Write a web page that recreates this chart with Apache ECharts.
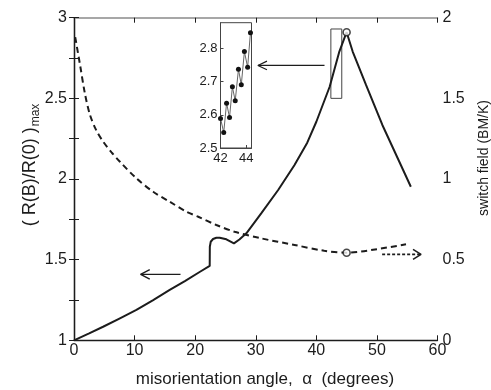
<!DOCTYPE html>
<html><head><meta charset="utf-8">
<script src="https://cdn.jsdelivr.net/npm/echarts@6/dist/echarts.min.js"></script>
<style>html,body{margin:0;padding:0;background:#fff}#c{width:491px;height:390px}</style>
</head><body><div id="c"></div>
<script>
// ---- data ----
const ratioCurve = [
  [0,1.0],[2.5,1.043],[4.8,1.084],[7.5,1.135],[10.3,1.188],[13,1.248],[15.8,1.312],
  [18.3,1.367],[20.8,1.425],[22.4,1.461],[22.42,1.58],[22.57,1.611],[22.95,1.628],
  [23.5,1.636],[24.05,1.636],[25.15,1.626],[26.4,1.601],[27.3,1.625],[28.45,1.663],
  [30.9,1.787],[33.7,1.932],[36.4,2.087],[38.5,2.225],[40.0,2.355],[42.2,2.572],
  [43.8,2.79],[45.0,2.91],[46.0,2.79],[48.2,2.583],[50.9,2.335],[53.7,2.107],[55.6,1.952]
];
const switchCurve = [
  [0.2,1.88],[1.0,1.707],[1.8,1.53],[2.64,1.397],[3.7,1.3],[4.83,1.231],[6.2,1.165],
  [7.58,1.107],[10.3,1.004],[13.07,0.921],[15.8,0.859],[18.57,0.797],[20.5,0.766],
  [23.5,0.715],[26.5,0.673],[30.9,0.632],[36.4,0.591],[41.3,0.555],[45.0,0.543],
  [50.0,0.565],[54.8,0.595]
];
const peakRatio = [[45.0,2.91]];
const peakSwitch = [[45.0,0.543]];
const insetData = [
  [42.0,2.589],[42.25,2.547],[42.47,2.635],[42.7,2.592],[42.92,2.684],[43.14,2.642],
  [43.39,2.737],[43.61,2.69],[43.85,2.79],[44.1,2.743],[44.32,2.847]
];
const zoomBox = [[42.4,2.5],[44.2,2.5],[44.2,2.93],[42.4,2.93],[42.4,2.5]];
const arrowLeft = [[17.58,1.409],[11.0,1.409]];
const arrowLeftHead = [[12.5,1.438],[11.0,1.409],[12.5,1.380]];
const arrowInset = [[41.35,2.704],[30.36,2.704]];
const arrowInsetHead = [[31.85,2.731],[30.36,2.704],[31.85,2.677]];
const arrowRight = [[50.86,0.533],[57.28,0.533]];
const arrowRightHead = [[55.96,0.564],[57.28,0.533],[55.96,0.502]];
const xTitle = 'misorientation angle,  α  (degrees)';
const yLeftTitle = '( R(B)/R(0) )';
const yLeftSub = 'max';
const yRightTitle = 'switch field (BM/K)';

// ---- chart ----
const FONT = 'Liberation Sans, Arial, sans-serif';
const INK = '#1c1c1c';
const chart = echarts.init(document.getElementById('c'));
const halfLabel = v => { const r = Math.round(v * 4); return r % 2 === 0 ? String(+v.toFixed(2)) : ''; };
const ann = (data, xi, yi, opt) => Object.assign({
  type: 'line', data, xAxisIndex: xi, yAxisIndex: yi, symbol: 'none', silent: true,
  lineStyle: { color: INK, width: 1.4 }, animation: false, z: 3
}, opt || {});

chart.setOption({
  animation: false,
  backgroundColor: '#fff',
  grid: [
    { left: 74, right: 53.5, top: 17.7, bottom: 49.7 },
    { left: 220.5, top: 22.7, width: 31, height: 125.3, show: true, borderColor: '#444', borderWidth: 1, backgroundColor: 'transparent' }
  ],
  xAxis: [
    { gridIndex: 0, type: 'value', min: 0, max: 60, interval: 10, position: 'bottom',
      axisLine: { show: true, lineStyle: { color: INK, width: 1.3 } },
      axisTick: { show: true, inside: false, length: -5, lineStyle: { color: INK } },
      axisLabel: { color: INK, fontSize: 16, fontFamily: FONT, margin: 2 },
      splitLine: { show: false } },
    { gridIndex: 0, type: 'value', min: 0, max: 60, interval: 10, position: 'top',
      axisLine: { show: true, lineStyle: { color: '#8a8a8a', width: 1.5 } },
      axisTick: { show: true, inside: true, length: 5, lineStyle: { color: INK } },
      axisLabel: { show: false }, splitLine: { show: false } },
    { gridIndex: 1, type: 'value', min: 42, max: 44.4, interval: 2,
      axisLine: { show: true, lineStyle: { color: '#444', width: 1 } },
      axisTick: { show: true, inside: true, length: 3, lineStyle: { color: '#444' } },
      axisLabel: { color: INK, fontSize: 13, fontFamily: FONT, margin: 4, showMaxLabel: false },
      splitLine: { show: false } }
  ],
  yAxis: [
    { gridIndex: 0, type: 'value', min: 1, max: 3, interval: 0.25, position: 'left',
      axisLine: { show: true, lineStyle: { color: INK, width: 1.3 } },
      axisTick: { show: true, inside: false, length: -5, lineStyle: { color: INK } },
      axisLabel: { color: INK, fontSize: 16, fontFamily: FONT, margin: 7, formatter: halfLabel },
      splitLine: { show: false } },
    { gridIndex: 0, type: 'value', min: 0, max: 2, interval: 0.25, position: 'right',
      axisLine: { show: true, lineStyle: { color: INK, width: 1.3 } },
      axisTick: { show: true, inside: true, length: 5, lineStyle: { color: INK } },
      axisLabel: { color: INK, fontSize: 16, fontFamily: FONT, margin: 5, formatter: halfLabel },
      splitLine: { show: false } },
    { gridIndex: 1, type: 'value', min: 2.5, max: 2.877, interval: 0.1,
      axisLine: { show: true, lineStyle: { color: '#444', width: 1 } },
      axisTick: { show: true, inside: true, length: 3, lineStyle: { color: '#444' } },
      axisLabel: { color: INK, fontSize: 13, fontFamily: FONT, margin: 3, showMaxLabel: false },
      splitLine: { show: false } }
  ],
  series: [
    { type: 'line', name: 'ratio', data: ratioCurve, xAxisIndex: 0, yAxisIndex: 0, symbol: 'none',
      lineStyle: { color: INK, width: 2 }, z: 4 },
    { type: 'line', name: 'switch', data: switchCurve, xAxisIndex: 0, yAxisIndex: 1, symbol: 'none', smooth: 0.3,
      lineStyle: { color: INK, width: 2, type: [6, 4] }, z: 4 },
    { type: 'scatter', data: peakRatio, xAxisIndex: 0, yAxisIndex: 0, symbolSize: 7,
      itemStyle: { color: '#fff', borderColor: INK, borderWidth: 1.6 }, z: 6 },
    { type: 'scatter', data: peakSwitch, xAxisIndex: 0, yAxisIndex: 1, symbolSize: 7,
      itemStyle: { color: '#fff', borderColor: INK, borderWidth: 1.6 }, z: 6 },
    ann(zoomBox, 0, 0, { lineStyle: { color: '#444', width: 1 } }),
    ann(arrowLeft, 0, 0),
    ann(arrowLeftHead, 0, 0),
    ann(arrowInset, 0, 0, { lineStyle: { color: INK, width: 1.2 } }),
    ann(arrowInsetHead, 0, 0, { lineStyle: { color: INK, width: 1.2 } }),
    ann(arrowRight, 0, 1, { lineStyle: { color: INK, width: 1.6, type: [3, 2] } }),
    ann(arrowRightHead, 0, 1, { lineStyle: { color: INK, width: 1.6 } }),
    { type: 'line', data: insetData, xAxisIndex: 2, yAxisIndex: 2, symbol: 'circle', symbolSize: 5,
      lineStyle: { color: '#666', width: 1 }, itemStyle: { color: '#111' }, z: 5 }
  ],
  graphic: [
    { type: 'text', x: 265, y: 379, silent: true,
      style: { text: xTitle, fontSize: 17, fontFamily: FONT, fill: INK, align: 'center', verticalAlign: 'middle' } },
    { type: 'text', x: 30, y: 165, rotation: Math.PI / 2, silent: true,
      style: { text: '{a|' + yLeftTitle + '}{b|' + yLeftSub + '}', fill: INK, align: 'center', verticalAlign: 'middle',
        rich: { a: { fontSize: 18, fontFamily: FONT, fill: INK }, b: { fontSize: 12, fontFamily: FONT, fill: INK, padding: [12, 0, 0, 1] } } } },
    { type: 'text', x: 484, y: 158, rotation: Math.PI / 2, silent: true,
      style: { text: yRightTitle, fontSize: 14, fontFamily: FONT, fill: INK, align: 'center', verticalAlign: 'middle' } }
  ]
});
</script></body></html>
